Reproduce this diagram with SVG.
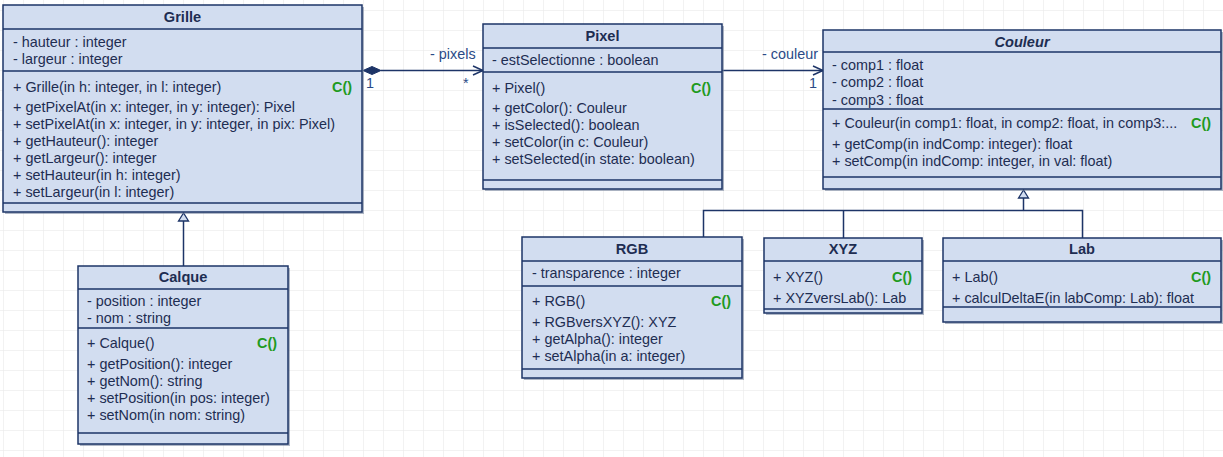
<svg xmlns="http://www.w3.org/2000/svg" width="1223" height="457" viewBox="0 0 1223 457">
<defs>
<pattern id="grid" x="3" y="10" width="20" height="20" patternUnits="userSpaceOnUse">
<path d="M0 0H20M0 0V20" fill="none" stroke="#e6e6e6" stroke-width="1"/>
</pattern>
<style>
.box{fill:#d2ddf0;stroke:#1d3467;stroke-width:1.5}
.shadow{fill:#6f7d99;opacity:0.55}
.sep{stroke:#1d3467;stroke-width:1.5}
.t{font-family:"Liberation Sans",Arial,sans-serif;font-size:14.4px;fill:#1e2d52}
.title{font-family:"Liberation Sans",Arial,sans-serif;font-size:14.6px;font-weight:bold;fill:#1e2d52;text-anchor:middle}
.ctor{font-family:"Liberation Sans",Arial,sans-serif;font-size:14.4px;font-weight:bold;fill:#1e9a1e;text-anchor:end}
.lbl{font-family:"Liberation Sans",Arial,sans-serif;font-size:14.4px;fill:#2a4a86}
.edge{fill:none;stroke:#1d3467;stroke-width:1.5}
.tri{fill:#d2ddf0;stroke:#1d3467;stroke-width:1.3}
</style>
</defs>
<rect width="1223" height="457" fill="#ffffff"/>
<rect width="1223" height="457" fill="url(#grid)"/>

<g id="connectors">
<path class="edge" d="M381 70.5H483"/>
<polygon points="363,70.5 372,66.5 381,70.5 372,74.5" fill="#1d3467" stroke="#1d3467" stroke-width="1"/>
<path class="edge" d="M473 66L483 70.5L473 75"/>
<text class="lbl" x="430" y="59">- pixels</text>
<text class="lbl" x="366" y="88">1</text>
<text class="lbl" x="463" y="88">*</text>
<path class="edge" d="M722 70.5H823"/>
<path class="edge" d="M813 66L823 70.5L813 75"/>
<text class="lbl" x="818" y="59" text-anchor="end">- couleur</text>
<text class="lbl" x="817" y="88" text-anchor="end">1</text>
<path class="edge" d="M183.5 221V266"/>
<polygon class="tri" points="183.5,213 178.5,221 188.5,221"/>
<path class="edge" d="M1023.5 198V210.5M703.5 237V210.5H1082.5V238M843.5 210.5V238"/>
<polygon class="tri" points="1023.5,190 1018.5,198 1028.5,198"/>
</g>

<g id="grille">
<rect class="shadow" x="5" y="7" width="359" height="207"/>
<rect class="box" x="3" y="5" width="359" height="207"/>
<path class="sep" d="M3 29H362M3 71H362M3 203H362"/>
<text class="title" x="182.5" y="22">Grille</text>
<text class="t" x="13" y="47">- hauteur : integer</text>
<text class="t" x="13" y="64">- largeur : integer</text>
<text class="t" x="13" y="92">+ Grille(in h: integer, in l: integer)</text>
<text class="ctor" x="352" y="92">C()</text>
<text class="t" x="13" y="112">+ getPixelAt(in x: integer, in y: integer): Pixel</text>
<text class="t" x="13" y="129">+ setPixelAt(in x: integer, in y: integer, in pix: Pixel)</text>
<text class="t" x="13" y="146">+ getHauteur(): integer</text>
<text class="t" x="13" y="163">+ getLargeur(): integer</text>
<text class="t" x="13" y="180">+ setHauteur(in h: integer)</text>
<text class="t" x="13" y="197">+ setLargeur(in l: integer)</text>
</g>

<g id="pixel">
<rect class="shadow" x="485" y="26" width="239" height="165"/>
<rect class="box" x="483" y="24" width="239" height="165"/>
<path class="sep" d="M483 48H722M483 72H722M483 180H722"/>
<text class="title" x="602.5" y="41">Pixel</text>
<text class="t" x="492" y="65">- estSelectionne : boolean</text>
<text class="t" x="492" y="93">+ Pixel()</text>
<text class="ctor" x="711" y="93">C()</text>
<text class="t" x="492" y="113">+ getColor(): Couleur</text>
<text class="t" x="492" y="130">+ isSelected(): boolean</text>
<text class="t" x="492" y="147">+ setColor(in c: Couleur)</text>
<text class="t" x="492" y="164">+ setSelected(in state: boolean)</text>
</g>

<g id="couleur">
<rect class="shadow" x="825" y="32" width="398" height="159"/>
<rect class="box" x="823" y="30" width="398" height="159"/>
<text class="title" x="1022" y="47" font-style="italic">Couleur</text>
<text class="t" x="832" y="70">- comp1 : float</text>
<text class="t" x="832" y="87">- comp2 : float</text>
<text class="t" x="832" y="105">- comp3 : float</text>
<rect x="824" y="109" width="396" height="4" fill="#d2ddf0"/>
<path class="sep" d="M823 52H1221M823 109H1221M823 177H1221"/>
<text class="t" x="832" y="128">+ Couleur(in comp1: float, in comp2: float, in comp3:...</text>
<text class="ctor" x="1211" y="128">C()</text>
<text class="t" x="832" y="149">+ getComp(in indComp: integer): float</text>
<text class="t" x="832" y="166">+ setComp(in indComp: integer, in val: float)</text>
</g>

<g id="rgb">
<rect class="shadow" x="524" y="239" width="220" height="141"/>
<rect class="box" x="522" y="237" width="220" height="141"/>
<path class="sep" d="M522 261H742M522 286H742M522 369H742"/>
<text class="title" x="632" y="254">RGB</text>
<text class="t" x="532" y="278">- transparence : integer</text>
<text class="t" x="532" y="306">+ RGB()</text>
<text class="ctor" x="731" y="306">C()</text>
<text class="t" x="532" y="327">+ RGBversXYZ(): XYZ</text>
<text class="t" x="532" y="344">+ getAlpha(): integer</text>
<text class="t" x="532" y="361">+ setAlpha(in a: integer)</text>
</g>

<g id="xyz">
<rect class="shadow" x="766" y="240" width="158" height="75"/>
<rect class="box" x="764" y="238" width="158" height="75"/>
<path class="sep" d="M764 261H922M764 309H922"/>
<text class="title" x="843" y="254">XYZ</text>
<text class="t" x="773" y="282">+ XYZ()</text>
<text class="ctor" x="912" y="282">C()</text>
<text class="t" x="773" y="303">+ XYZversLab(): Lab</text>
</g>

<g id="lab">
<rect class="shadow" x="945" y="240" width="278" height="84"/>
<rect class="box" x="943" y="238" width="278" height="84"/>
<text class="title" x="1082" y="254">Lab</text>
<text class="t" x="952" y="282">+ Lab()</text>
<text class="ctor" x="1211" y="282">C()</text>
<text class="t" x="952" y="303">+ calculDeltaE(in labComp: Lab): float</text>
<rect x="944" y="307" width="276" height="14" fill="#d2ddf0"/>
<path class="sep" d="M943 261H1221M943 307H1221"/>
</g>

<g id="calque">
<rect class="shadow" x="80" y="268" width="210" height="178"/>
<rect class="box" x="78" y="266" width="210" height="178"/>
<text class="title" x="183" y="282">Calque</text>
<text class="t" x="87" y="306">- position : integer</text>
<text class="t" x="87" y="323">- nom : string</text>
<rect x="79" y="328" width="208" height="5" fill="#d2ddf0"/>
<path class="sep" d="M78 289H288M78 328H288M78 433H288"/>
<text class="t" x="87" y="348">+ Calque()</text>
<text class="ctor" x="277" y="348">C()</text>
<text class="t" x="87" y="369">+ getPosition(): integer</text>
<text class="t" x="87" y="386">+ getNom(): string</text>
<text class="t" x="87" y="403">+ setPosition(in pos: integer)</text>
<text class="t" x="87" y="420">+ setNom(in nom: string)</text>
</g>
</svg>
